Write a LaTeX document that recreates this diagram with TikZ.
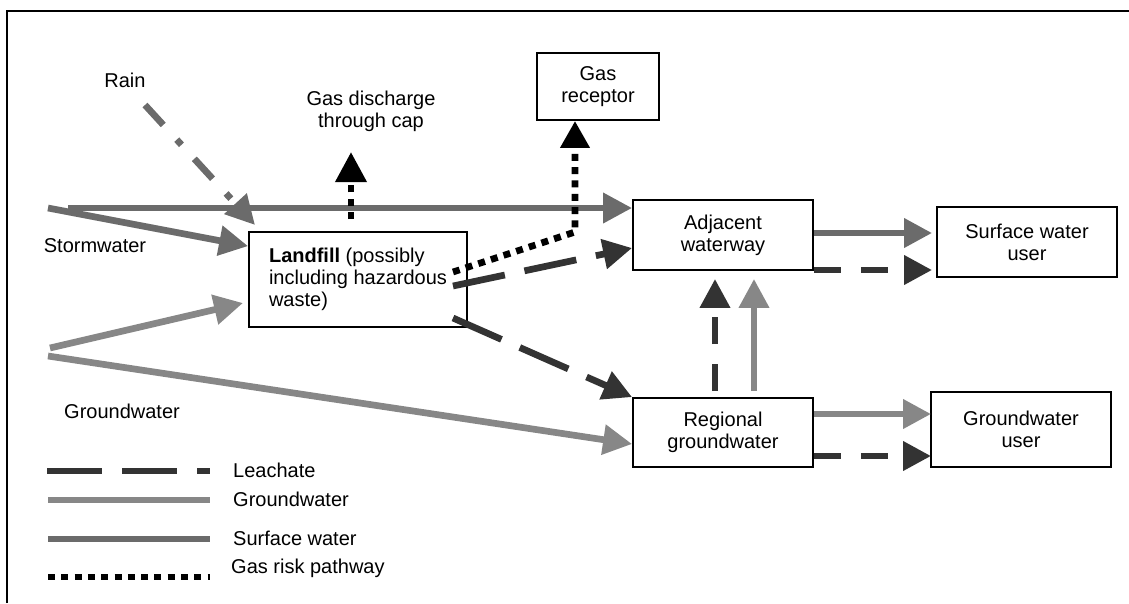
\documentclass[tikz,border=0pt]{standalone}
\usepackage{fontspec}
\setmainfont{Liberation Sans}
\usetikzlibrary{arrows.meta,calc}
\definecolor{swc}{HTML}{6B6B6B}
\definecolor{gwc}{HTML}{878787}
\definecolor{lcc}{HTML}{333333}
\begin{document}
\begin{tikzpicture}[x=1pt,y=-1pt,
  font=\fontsize{20}{22}\selectfont,
  box/.style={draw, line width=1.8pt, align=center, inner sep=0pt},
  lbl/.style={inner sep=0pt, align=center},
  tipbig/.style={-{Triangle[length=29pt,width=29pt]}},
  swline/.style={draw=swc, line width=6.7pt},
  gwline/.style={draw=gwc, line width=6.7pt},
  lcline/.style={draw=lcc, line width=6.7pt, dash pattern=on 53pt off 20pt},
  lcshort/.style={draw=lcc, line width=6.7pt, dash pattern=on 27pt off 20pt},
  gasline/.style={draw=black, line width=6.7pt, dash pattern=on 7pt off 6.3pt},
  rainline/.style={draw=swc, line width=6.7pt, dash pattern=on 27pt off 20pt on 7pt off 19pt}]
\useasboundingbox (0,0) rectangle (1129,603);
% frame
\draw[line width=1.5pt] (7,603) -- (7,11) -- (1129,11);

% boxes
\node[box, minimum width=218pt, minimum height=95pt, align=left] (landfill) at (358,279.5)
  {\textbf{Landfill} (possibly\\including hazardous\\waste)};
\node[box, minimum width=122pt, minimum height=67pt] (gasrec) at (598,86.5) {Gas\\receptor};
\node[box, minimum width=180pt, minimum height=70pt] (adj) at (723,235) {Adjacent\\waterway};
\node[box, minimum width=180pt, minimum height=70pt] (swu) at (1027,242) {Surface water\\user};
\node[box, minimum width=180pt, minimum height=69pt] (reg) at (723,432.5) {Regional\\groundwater};
\node[box, minimum width=180pt, minimum height=75pt] (gwu) at (1021,429.5) {Groundwater\\user};

% labels
\node[lbl] (rain) at (125,80) {Rain};
\node[lbl] (gasdis) at (371,111.5) {Gas discharge\\through cap};
\node[lbl] (storm) at (95,246) {Stormwater};
\node[lbl] (gwlab) at (122,411) {Groundwater};

% coordinates
\coordinate (sw1) at (68,208);
\coordinate (sw2) at (48,208);
\coordinate (rs) at (145,105);
\coordinate (rt) at (255,225);
\coordinate (gds) at (351,219);
\coordinate (gdt) at (351,152);
\coordinate (gp1) at (453,272);
\coordinate (gp2) at (575,232);
\coordinate (lc1) at (453,286);
\coordinate (lc2) at (453,318);
\coordinate (gw1) at (50,348);
\coordinate (gw1t) at (243,303);
\coordinate (gw2) at (48,356);

% stormwater / surface water
\draw[swline, tipbig] (sw1) -- (sw1 -| adj.west);
\draw[swline, tipbig] (sw2) -- ($(landfill.north west)+(0,15)$);
% rain
\draw[rainline, tipbig] (rs) -- (rt);
% gas discharge through cap
\draw[gasline, -{Triangle[length=30pt,width=30pt]}] (gds) -- (gdt);
% gas risk pathway to receptor
\draw[gasline, line join=miter, -{Triangle[length=27pt,width=28pt]}] (gp1) -- (gp2) -- (gasrec.south -| gp2);
% leachate
\draw[lcline, tipbig] (lc1) -- ($(adj.west)+(0,13)$);
\draw[lcline, tipbig] (lc2) -- (reg.north west);
% groundwater
\draw[gwline, tipbig] (gw1) -- (gw1t);
\draw[gwline, tipbig] (gw2) -- ($(reg.west)+(0,11.5)$);
% adjacent -> surface water user
\draw[swline, -{Triangle[length=28pt,width=28pt]}] ($(adj.east)+(0,-2)$) -- ($(adj.east -| swu.west)+(-4,-2)$);
\draw[lcshort, -{Triangle[length=28pt,width=28pt]}] ($(adj.east)+(0,35)$) -- ($(adj.east -| swu.west)+(-4,35)$);
% regional -> groundwater user
\draw[gwline, -{Triangle[length=28pt,width=28pt]}] ($(reg.east)+(0,-18.5)$) -- ($(reg.east -| gwu.west)+(1,-18.5)$);
\draw[lcshort, -{Triangle[length=28pt,width=28pt]}] ($(reg.east)+(0,23.5)$) -- ($(reg.east -| gwu.west)+(1,23.5)$);
% regional -> adjacent
\draw[lcshort, -{Triangle[length=29pt,width=29pt]}] ($(reg.north)+(-8,-6)$) -- ($(adj.south)+(-8,8)$);
\draw[gwline, -{Triangle[length=29pt,width=29pt]}] ($(reg.north)+(31,-6)$) -- ($(adj.south)+(31,8)$);

% legend
\coordinate (l1a) at (47,471); \coordinate (l1b) at (210,471);
\coordinate (l2a) at (48,500); \coordinate (l2b) at (210,500);
\coordinate (l3a) at (48,539); \coordinate (l3b) at (210,539);
\coordinate (l4a) at (48,577); \coordinate (l4b) at (210,577);
\draw[lcc, line width=6.7pt, dash pattern=on 55pt off 20pt] (l1a) -- (l1b);
\draw[gwline] (l2a) -- (l2b);
\draw[swline] (l3a) -- (l3b);
\draw[gasline] (l4a) -- (l4b);
\node[lbl, anchor=west] (lg1) at (233,470) {Leachate};
\node[lbl, anchor=west] (lg2) at (233,499) {Groundwater};
\node[lbl, anchor=west] (lg3) at (233,538) {Surface water};
\node[lbl, anchor=west] (lg4) at (231,568) {Gas risk pathway};
\end{tikzpicture}
\end{document}
